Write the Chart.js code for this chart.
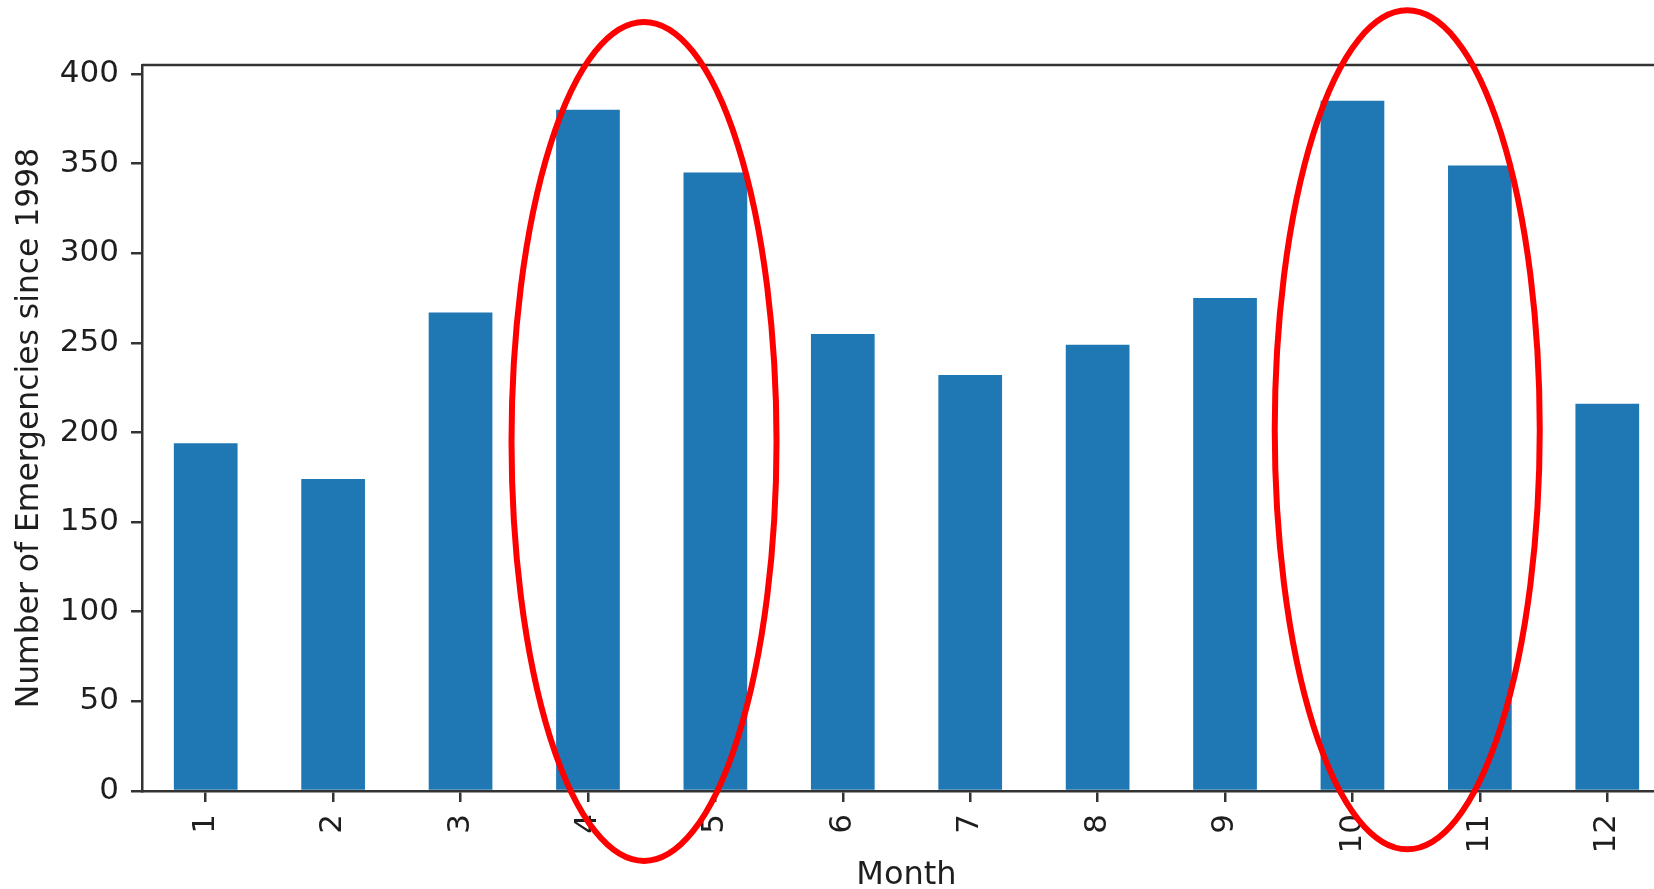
<!DOCTYPE html>
<html>
<head>
<meta charset="utf-8">
<script src="https://cdn.jsdelivr.net/npm/chart.js@4"></script>
<style>
html, body { margin: 0; padding: 0; background: #ffffff; overflow: hidden; width: 1654px; height: 889px; }
#wrap { position: absolute; left: 0; top: 0; width: 1700px; height: 889px; }
</style>
</head>
<body>
<div id="wrap"><canvas id="c" width="1700" height="889"></canvas></div>
<script>
// ---- data ----
const months = ['1', '2', '3', '4', '5', '6', '7', '8', '9', '10', '11', '12'];
const emergencies = [194, 174, 267, 380, 345, 255, 232, 249, 275, 385, 349, 216];
const yTicks = [0, 50, 100, 150, 200, 250, 300, 350, 400];
const yMax = 405;

// red highlight ellipses (in data units: category index / count)
const highlightCenterX = [3.44, 9.43];
const highlightCenterY = [195, 201.5];
const highlightRadiusX = [1.04, 1.04];
const highlightRadiusY = [234, 234];

const TICK_FONT = { family: 'DejaVu Sans', size: 31 };
const X_TITLE_FONT = { family: 'DejaVu Sans', size: 32 };
const Y_TITLE_FONT = { family: 'DejaVu Sans', size: 31.4 };
const TEXT = '#1e1e1e';
const SPINE = '#333333';

const framePlugin = {
  id: 'frame',
  afterDraw(chart) {
    const { ctx, chartArea: a, scales } = chart;
    const x = scales.x, y = scales.y;
    ctx.save();
    // top and right spines
    ctx.strokeStyle = SPINE;
    ctx.lineWidth = 2.5;
    ctx.beginPath();
    ctx.moveTo(a.left, a.top);
    ctx.lineTo(a.right, a.top);
    ctx.lineTo(a.right, a.bottom);
    ctx.stroke();
    // highlight ellipses
    ctx.strokeStyle = '#ff0000';
    ctx.lineWidth = 6;
    for (let i = 0; i < highlightCenterX.length; i++) {
      const cx = x.getPixelForValue(highlightCenterX[i]);
      const rx = x.getPixelForValue(highlightCenterX[i] + highlightRadiusX[i]) - cx;
      const cy = y.getPixelForValue(highlightCenterY[i]);
      const ry = cy - y.getPixelForValue(highlightCenterY[i] + highlightRadiusY[i]);
      ctx.beginPath();
      ctx.ellipse(cx, cy, rx, ry, 0, 0, Math.PI * 2);
      ctx.stroke();
    }
    ctx.restore();
  }
};

new Chart(document.getElementById('c'), {
  type: 'bar',
  data: {
    labels: months,
    datasets: [{
      data: emergencies,
      backgroundColor: '#1f77b4',
      borderWidth: 0,
      categoryPercentage: 1.0,
      barPercentage: 0.5
    }]
  },
  options: {
    responsive: false,
    animation: false,
    devicePixelRatio: 1,
    layout: { padding: { top: 65, right: 29, left: 0, bottom: 0 } },
    plugins: { legend: { display: false }, tooltip: { enabled: false } },
    scales: {
      x: {
        grid: { offset: false, drawOnChartArea: false, drawTicks: true, tickLength: 11, color: SPINE, lineWidth: 2.5 },
        border: { display: true, color: SPINE, width: 2.5 },
        ticks: { autoSkip: false, maxRotation: 90, minRotation: 90, padding: 12, color: TEXT, font: TICK_FONT },
        title: { display: true, text: 'Month', color: TEXT, font: X_TITLE_FONT, padding: { top: 0, bottom: -6 } },
        afterFit(s) { s.height = 98; }
      },
      y: {
        min: 0,
        max: yMax,
        grid: { drawOnChartArea: false, drawTicks: true, tickLength: 11, color: SPINE, lineWidth: 2.5 },
        border: { display: true, color: SPINE, width: 2.5 },
        ticks: { padding: 12, color: TEXT, font: TICK_FONT },
        afterBuildTicks(s) { s.ticks = yTicks.map(v => ({ value: v })); },
        title: { display: true, text: 'Number of Emergencies since 1998', color: TEXT, font: Y_TITLE_FONT, padding: { top: 11, bottom: 0 } },
        afterFit(s) { s.width = 142; }
      }
    }
  },
  plugins: [framePlugin]
});
</script>
</body>
</html>
